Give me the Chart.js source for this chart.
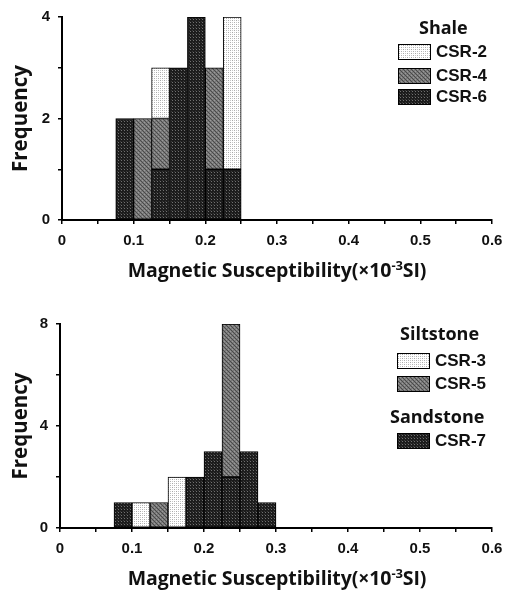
<!DOCTYPE html>
<html>
<head>
<meta charset="utf-8">
<script src="https://cdn.jsdelivr.net/npm/chart.js@4/dist/chart.umd.min.js"></script>
<style>
  body { margin: 0; background: #fff; }
  #wrap { position: relative; width: 517px; height: 591px; overflow: hidden; }
  canvas { position: absolute; left: 0; }
  .xtitle { position: absolute; left: 62px; width: 430px; text-align: center;
    font: bold 19.5px "Open Sans", sans-serif; color: #111; white-space: nowrap; letter-spacing: -0.1px; }
  .xtitle sup { font-size: 13px; line-height: 0; }
  .lg-head { position: absolute; font: bold 18px "Open Sans", sans-serif; color: #111; }
  .lg-item { position: absolute; font: bold 17px "Liberation Sans", Arial, sans-serif; color: #111;
    display: flex; align-items: center; }
  .sw { width: 33px; height: 16px; border: 1px solid #000; margin-right: 5px; box-sizing: border-box; }
</style>
</head>
<body>
<div id="wrap">
  <canvas id="top" width="517" height="295" style="top:0"></canvas>
  <canvas id="bottom" width="517" height="296" style="top:295px"></canvas>

  <div class="xtitle" style="top:256px">Magnetic Susceptibility(×10<sup>-3</sup>SI)</div>
  <div class="xtitle" style="top:564px">Magnetic Susceptibility(×10<sup>-3</sup>SI)</div>

  <div class="lg-head" style="left:419px;top:15px">Shale</div>
  <div class="lg-item" style="left:398px;top:42px"><span class="sw" id="sw-csr2"></span>CSR-2</div>
  <div class="lg-item" style="left:398px;top:66px"><span class="sw" id="sw-csr4"></span>CSR-4</div>
  <div class="lg-item" style="left:398px;top:87px"><span class="sw" id="sw-csr6"></span>CSR-6</div>

  <div class="lg-head" style="left:400px;top:321px">Siltstone</div>
  <div class="lg-item" style="left:397px;top:351px"><span class="sw" id="sw-csr3"></span>CSR-3</div>
  <div class="lg-item" style="left:397px;top:374px"><span class="sw" id="sw-csr5"></span>CSR-5</div>
  <div class="lg-head" style="left:390px;top:404px">Sandstone</div>
  <div class="lg-item" style="left:397px;top:431px"><span class="sw" id="sw-csr7"></span>CSR-7</div>
</div>
<script>
// bin centres, 0.025 wide bins
const binCenters = [0.0875, 0.1125, 0.1375, 0.1625, 0.1875, 0.2125, 0.2375, 0.2625, 0.2875];

// shale
const csr2 = [0, 0, 1, 0, 0, 0, 3, 0, 0];
const csr4 = [0, 2, 1, 0, 0, 2, 0, 0, 0];
const csr6 = [2, 0, 1, 3, 4, 1, 1, 0, 0];

// siltstone / sandstone
const csr3 = [0, 1, 0, 2, 0, 0, 0, 0, 0];
const csr5 = [0, 0, 1, 0, 0, 0, 6, 0, 0];
const csr7 = [1, 0, 0, 0, 2, 3, 2, 3, 1];

const xMin = 0, xMax = 0.6, xStep = 0.05;

function makeTile(size, bg, dots) {
  const c = document.createElement('canvas');
  c.width = size; c.height = size;
  const ctx = c.getContext('2d');
  ctx.fillStyle = bg;
  ctx.fillRect(0, 0, size, size);
  dots.forEach(([x, y, col]) => { ctx.fillStyle = col; ctx.fillRect(x, y, 1, 1); });
  return c;
}

const tiles = {
  light: makeTile(4, '#ffffff', [[0,0,'#a8a8a8'],[2,0,'#c8c8c8'],[0,2,'#c8c8c8'],[2,2,'#b0b0b0']]),
  gray: makeTile(4, '#7a7a7a', [[0,0,'#4a4a4a'],[1,1,'#4a4a4a'],[2,2,'#4a4a4a'],[3,3,'#4a4a4a'],[2,0,'#9a9a9a'],[0,2,'#9a9a9a']]),
  dark: makeTile(3, '#1c1c1c', [[1,1,'#707070'],[0,0,'#3a3a3a']]),
};

function pattern(name) {
  const ctx = document.createElement('canvas').getContext('2d');
  return ctx.createPattern(tiles[name], 'repeat');
}

[['sw-csr2','light'],['sw-csr4','gray'],['sw-csr6','dark'],['sw-csr3','light'],['sw-csr5','gray'],['sw-csr7','dark']]
  .forEach(([id, t]) => { document.getElementById(id).style.backgroundImage = `url(${tiles[t].toDataURL()})`; });

function series(label, values, tile) {
  return {
    label,
    data: binCenters.map((x, i) => ({ x, y: values[i] || null })),
    backgroundColor: pattern(tile),
    borderColor: '#000',
    borderWidth: 1,
    borderSkipped: false,
    barPercentage: 1,
    categoryPercentage: 1,
  };
}

const tickFont = { family: '"Liberation Sans", Arial, sans-serif', size: 15, weight: 'bold' };

function histOptions(yMax, yStep, yLabelEvery, padTop, axisW, xAxisH) {
  return {
    responsive: false,
    animation: false,
    layout: { padding: { top: padTop, right: 25, left: 0, bottom: 0 } },
    plugins: { legend: { display: false }, tooltip: { enabled: false } },
    scales: {
      x: {
        type: 'linear', stacked: true, offset: false, min: xMin, max: xMax,
        border: { color: '#000', width: 2 },
        grid: { drawOnChartArea: false, offset: false, color: '#000', tickLength: 4, lineWidth: 1.5 },
        ticks: {
          stepSize: xStep, color: '#111', font: tickFont, padding: 8, maxRotation: 0, autoSkip: false,
          callback: v => {
            const k = Math.round(v * 100);
            if (k % 10 !== 0) return '';
            return k === 0 ? '0' : (k / 100).toFixed(1);
          }
        },
        afterFit: s => { s.height = xAxisH; }
      },
      y: {
        stacked: true, min: 0, max: yMax,
        border: { color: '#000', width: 2 },
        grid: { drawOnChartArea: false, color: '#000', tickLength: 4, lineWidth: 1.5 },
        ticks: {
          stepSize: yStep, color: '#111', font: tickFont, padding: 8,
          callback: v => (v % yLabelEvery === 0 ? v : '')
        },
        title: {
          display: true, text: 'Frequency', color: '#111',
          font: { family: '"Open Sans", sans-serif', size: 20.5, weight: 'bold' },
          padding: { top: 9, bottom: 0 }
        },
        afterFit: s => { s.width = axisW; }
      }
    }
  };
}

new Chart(document.getElementById('top'), {
  type: 'bar',
  data: { datasets: [series('CSR-6', csr6, 'dark'), series('CSR-4', csr4, 'gray'), series('CSR-2', csr2, 'light')] },
  options: histOptions(4, 1, 2, 16, 62, 75)
});

new Chart(document.getElementById('bottom'), {
  type: 'bar',
  data: { datasets: [series('CSR-7', csr7, 'dark'), series('CSR-5', csr5, 'gray'), series('CSR-3', csr3, 'light')] },
  options: histOptions(8, 2, 4, 29, 60, 63)
});
</script>
</body>
</html>
